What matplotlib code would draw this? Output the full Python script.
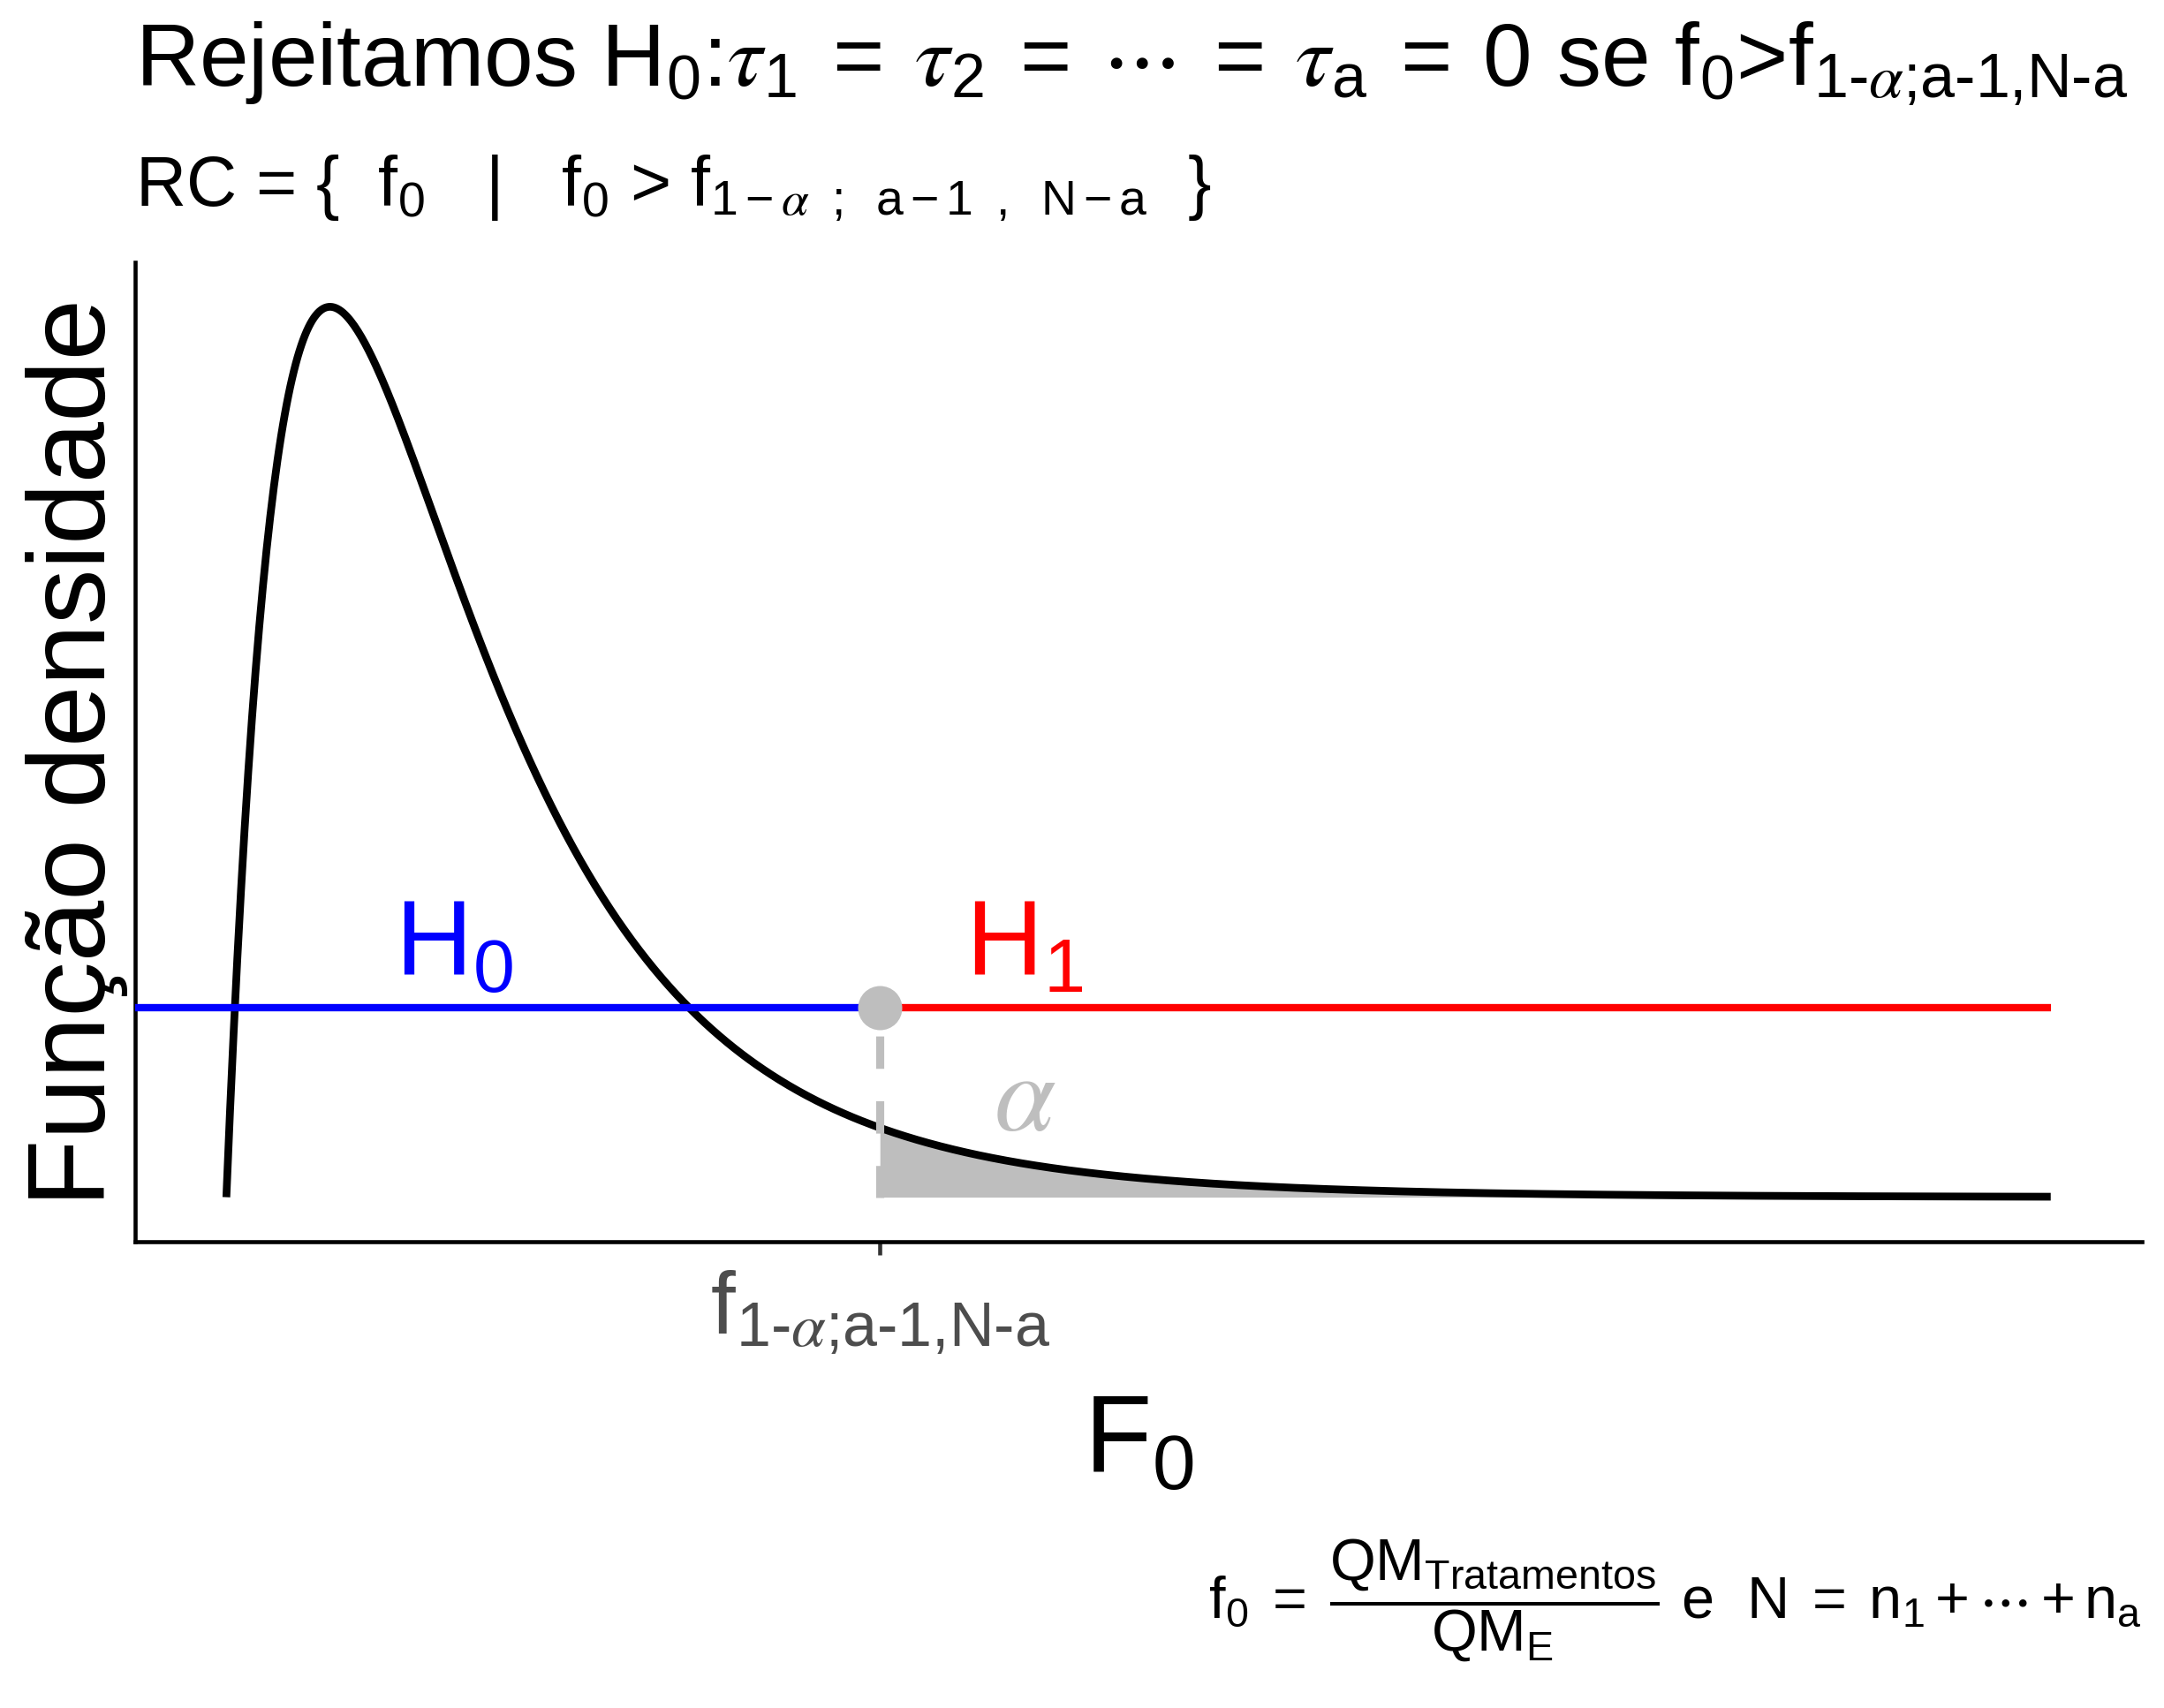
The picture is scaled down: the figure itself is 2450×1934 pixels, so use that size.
import math
import numpy as np
import matplotlib
matplotlib.use("Agg")
import matplotlib.pyplot as plt

plt.rcParams['font.family'] = ['Liberation Sans', 'DejaVu Sans']
plt.rcParams['mathtext.fontset'] = 'custom'
plt.rcParams['mathtext.rm'] = 'Liberation Sans'
plt.rcParams['mathtext.it'] = 'STIXGeneral:italic'
plt.rcParams['mathtext.bf'] = 'Liberation Sans:bold'
plt.rcParams['mathtext.fallback'] = 'stix'

# ---- data ----
df1 = 4            # a-1
df2 = 20           # N-a
x_min, x_max = 0.0, 8.0
f_crit = 2.866     # f_{0.95;4,20}
line_y = 0.15      # height of the H0 / H1 segments
h0_pos = (1.0, 0.175)
h1_pos = (3.5, 0.175)
alpha_pos = (3.5, 0.075)
tick_label = r"$\mathrm{f}_{\text{1-}\alpha\text{;a-1,N-a}}$"

title = (r"Rejeitamos $\mathrm{H_0}$:$\tau_1\;=\;\tau_2\;=\;\cdots\;=\;\tau_{\mathrm{a}}\;=\;0$"
         r" se $\mathrm{f_0}$>$\mathrm{f}_{\text{1-}\alpha\text{;a-1,N-a}}$")
subtitle = (r"RC = {  $\mathrm{f_0}$   |   $\mathrm{f_0}$ > "
            r"$\mathrm{f}_{\mathrm{1-}\alpha\mathrm{\ \ ;\ \ a-1\ \ ,\ \ N-a}}$  }")
caption = (r"$\mathrm{f_0}\ =\ \dfrac{\mathrm{QM_{Tratamentos}}}{\mathrm{QM_E}}$ e  "
           r"$\mathrm{N}\ =\ \mathrm{n_1} + \cdots + \mathrm{n_a}$")


def f_pdf(x, d1, d2):
    x = np.asarray(x, dtype=float)
    out = np.zeros_like(x)
    m = x > 0
    lb = math.lgamma(d1 / 2) + math.lgamma(d2 / 2) - math.lgamma((d1 + d2) / 2)
    xm = x[m]
    out[m] = np.exp(0.5 * (d1 * np.log(d1 * xm) + d2 * np.log(d2)
                           - (d1 + d2) * np.log(d1 * xm + d2)) - np.log(xm) - lb)
    return out


xs = np.linspace(x_min, x_max, 1000)
ys = f_pdf(xs, df1, df2)
ymax = ys.max()

W, H = 2450, 1934
fig = plt.figure(figsize=(W / 300, H / 300), dpi=300)
left, right = 153 / W, 2425 / W
bottom, top = 1 - 1406 / H, 1 - 297 / H
ax = fig.add_axes([left, bottom, right - left, top - bottom])

rng = x_max - x_min
ax.set_xlim(x_min - 0.05 * rng, x_max + 0.05 * rng)
ax.set_ylim(-0.05 * ymax, 1.05 * ymax)

grey = '#BEBEBE'
# shaded rejection area
xf = np.linspace(f_crit, x_max, 400)
ax.fill_between(xf, 0, f_pdf(xf, df1, df2), color=grey, lw=0, zorder=2)
# density curve
ax.plot(xs, ys, color='black', lw=2.1, zorder=3, solid_capstyle='butt')
# H0 / H1 segments
ax.plot([ax.get_xlim()[0], f_crit], [line_y, line_y], color='#0000FF', lw=2.0, zorder=4,
        solid_capstyle='butt')
ax.plot([f_crit, x_max], [line_y, line_y], color='#FF0000', lw=2.0, zorder=4,
        solid_capstyle='butt')
# dashed vertical
ax.plot([f_crit, f_crit], [line_y, 0], color=grey, lw=2.2, ls=(4.5, (4, 4)), zorder=4)
ax.plot([f_crit], [line_y], 'o', color=grey, ms=12, mew=0, zorder=5)

ax.text(*h0_pos, r"$\mathrm{H_0}$", color='#0000FF', fontsize=29, ha='center', va='baseline')
ax.text(*h1_pos, r"$\mathrm{H_1}$", color='#FF0000', fontsize=29, ha='center', va='baseline')
ax.text(*alpha_pos, r"$\alpha$", color=grey, fontsize=30, ha='center', va='center')

for s in ['top', 'right']:
    ax.spines[s].set_visible(False)
for s in ['left', 'bottom']:
    ax.spines[s].set_linewidth(1.1)
    ax.spines[s].set_color('black')
ax.set_yticks([])
ax.set_xticks([f_crit])
ax.set_xticklabels([tick_label], fontsize=24, color='#4D4D4D')
ax.tick_params(axis='x', length=3.5, width=1.1, color='#333333', pad=4)

ax.set_xlabel(r"$\mathrm{F_0}$", fontsize=30, labelpad=10)
ax.set_ylabel("Função densidade", fontsize=30, labelpad=2)

fig.text(left, 1 - 98 / H, title, fontsize=24, ha='left', va='baseline')
fig.text(left, 1 - 234 / H, subtitle, fontsize=19, ha='left', va='baseline')
fig.text(right, 1 - 1812 / H, caption, fontsize=16, ha='right', va='center')

fig.savefig('out.png', dpi=300, facecolor='white')
